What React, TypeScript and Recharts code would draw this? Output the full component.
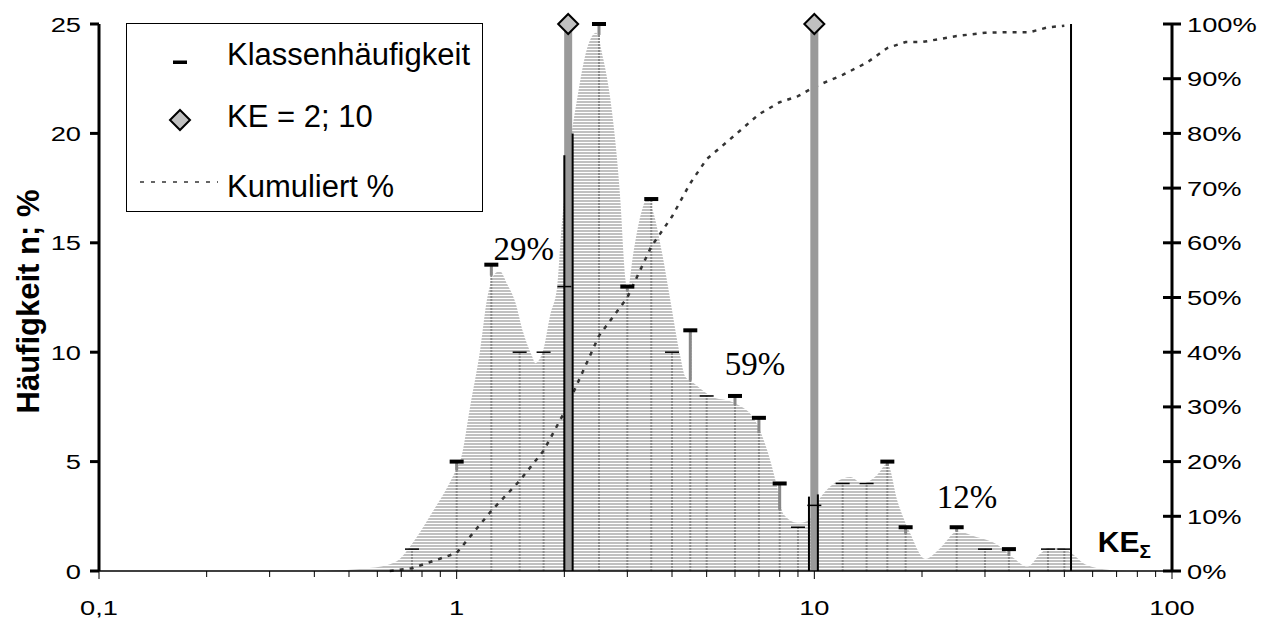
import React from "react";
import {
  ComposedChart,
  Area,
  Line,
  Scatter,
  ErrorBar,
  XAxis,
  YAxis,
} from "recharts";

// class midpoints and their frequencies (Klassenhäufigkeit)
const classX = [0.75, 1, 1.25, 1.5, 1.75, 2, 2.5, 3, 3.5, 4, 4.5, 5, 6, 7, 8, 9, 10, 12, 14, 16, 18, 25, 30, 35, 45, 50];
const classN = [1, 5, 14, 10, 10, 13, 25, 13, 17, 10, 11, 8, 8, 7, 4, 2, 3, 4, 4, 5, 2, 2, 1, 1, 1, 1];
// height of the smoothed curve at each class (where the grey stems end)
const classSurface = [1.3, 4.6, 13.5, 11.6, 10.1, 18, 24.5, 12.8, 16.9, 11.5, 8.7, 8.0, 7.6, 6.3, 2.8, 2.2, 3.0, 4.2, 4.0, 4.8, 1.7, 1.8, 1.4, 0.7, 1.0, 1.0];

// smoothed distribution (hatched area)
const areaX = [0.42, 0.58, 0.68, 0.755, 0.86, 0.94, 1.0, 1.03, 1.09, 1.163, 1.215, 1.28, 1.32, 1.385, 1.458, 1.535, 1.626, 1.658, 1.746, 1.826, 1.91, 1.95, 2.04, 2.173, 2.317, 2.455, 2.57, 2.688, 2.867, 2.96, 3.0, 3.117, 3.261, 3.411, 3.545, 3.756, 3.955, 4.22, 4.35, 4.586, 5.119, 5.935, 6.75, 7.389, 7.88, 8.19, 8.96, 9.62, 10.26, 11.6, 12.61, 13.62, 15.0, 16.0, 17.07, 18.56, 20.44, 22.51, 25.1, 27.85, 32.5, 36.0, 39.4, 42.87, 45.7, 48.8, 52.5, 57.3, 67, 75];
const areaY = [0, 0.15, 0.45, 1.3, 2.75, 3.8, 4.7, 5.2, 7.5, 10.1, 12.4, 13.6, 13.7, 13.1, 12.3, 10.9, 9.8, 9.5, 10.1, 11.7, 13.0, 15.0, 18.5, 21.6, 23.9, 24.6, 23.4, 21.6, 17, 13.4, 12.8, 14.5, 16.2, 17.0, 16.4, 14.5, 12.4, 9.8, 8.9, 8.6, 8.0, 7.7, 7.0, 5.5, 3.8, 2.6, 2.2, 2.3, 3.2, 4.1, 4.3, 4.0, 4.4, 4.9, 3.2, 1.7, 0.55, 1.05, 1.8, 1.6, 1.2, 0.6, 0.2, 0.8, 1.1, 1.1, 0.8, 0.3, 0.05, 0];

// cumulative percentage
const cumX = [0.65, 0.75, 1, 1.25, 1.5, 1.75, 2, 2.5, 3, 3.5, 4, 4.5, 5, 6, 7, 8, 9, 10, 12, 14, 16, 18, 20, 25, 30, 35, 40, 45, 50];
const cumPct = [0, 0.5, 3.3, 11, 16.5, 22, 29, 43, 50, 59.3, 64.8, 70.9, 75.3, 79.7, 83.5, 85.7, 86.8, 88.5, 90.7, 92.9, 95.6, 96.7, 96.7, 97.8, 98.4, 98.5, 98.5, 99.4, 99.7];

// KE = 2; 10 markers
const keX = [2.05, 10];
const keY = [25, 25];

// black boundary lines
const edgeX = [2.0, 2.11, 9.66, 10.23, 52.2];
const edgeTop = [19, 20, 3.4, 3.5, 25];

// annotations
const noteText = ["29%", "59%", "12%"];
const noteX = [1.54, 6.82, 26.7];
const noteY = [14.2, 8.96, 2.88];

const xTicks = [0.1, 0.2, 0.3, 0.4, 0.5, 0.6, 0.7, 0.8, 0.9, 1, 2, 3, 4, 5, 6, 7, 8, 9, 10, 20, 30, 40, 50, 60, 70, 80, 90, 100];
const majorTicks = [0.1, 1, 10, 100];
const majorLabels = ["0,1", "1", "10", "100"];
const leftTicks = [0, 5, 10, 15, 20, 25];
const rightTicks = [0, 10, 20, 30, 40, 50, 60, 70, 80, 90, 100];

const SANS = '"Liberation Sans", Arial, sans-serif';
const SERIF = '"Liberation Serif", "Times New Roman", serif';

const areaData = areaX.map((x, i) => ({ x, y: areaY[i] }));
const cumData = cumX.map((x, i) => ({ x, y: cumPct[i] }));
const classData = classX.map((x, i) => ({
  x,
  y: classN[i],
  drop: [classN[i], 0],
  stem: [Math.max(0, classN[i] - classSurface[i]), 0],
  inside: classN[i] <= classSurface[i],
}));
const keData = keX.map((x, i) => ({ x, y: keY[i], bar: [keY[i], 0] }));
const edgeData = edgeX.map((x, i) => ({ x, y: edgeTop[i], bar: [edgeTop[i], 0] }));
const noteData = noteText.map((t, i) => ({ x: noteX[i], y: noteY[i], t }));
const keLabel = [{ x: 62, y: 0.87 }];

function TickText({ x, y, anchor, children }: any) {
  return (
    <text
      transform={`translate(${x},${y}) scale(1.3,1)`}
      textAnchor={anchor}
      fontFamily={SANS}
      fontSize={21}
      fill="#000"
    >
      {children}
    </text>
  );
}

const XTick = (props: any) => {
  const { x, y, payload } = props;
  const i = majorTicks.indexOf(payload.value);
  const major = i >= 0;
  return (
    <g>
      <line x1={x} x2={x} y1={y} y2={y + (major ? 8 : 6)} stroke="#000" strokeWidth={1} />
      {major && (
        <TickText x={x} y={y + 44} anchor="middle">
          {majorLabels[i]}
        </TickText>
      )}
    </g>
  );
};

const LeftTick = (props: any) => {
  const { x, y, payload } = props;
  return (
    <g>
      <line x1={x - 9} x2={x} y1={y} y2={y} stroke="#000" strokeWidth={3} />
      <TickText x={x - 18} y={y + 7.5} anchor="end">
        {payload.value}
      </TickText>
    </g>
  );
};

const RightTick = (props: any) => {
  const { x, y, payload } = props;
  return (
    <g>
      <line x1={x - 9} x2={x + 9} y1={y} y2={y} stroke="#000" strokeWidth={3} />
      <TickText x={x + 15} y={y + 7.5} anchor="start">
        {`${payload.value}%`}
      </TickText>
    </g>
  );
};

const YTitle = (props: any) => {
  const vb = props.viewBox || { x: 11, y: 16, width: 80, height: 547 };
  const cx = vb.x + 9;
  const cy = vb.y + vb.height / 2 + 4;
  return (
    <text
      x={cx}
      y={cy}
      transform={`rotate(-90, ${cx}, ${cy})`}
      textAnchor="middle"
      dominantBaseline="central"
      fontFamily={SANS}
      fontWeight="bold"
      fontSize={31}
      fill="#000"
    >
      Häufigkeit n; %
    </text>
  );
};

const nothing = () => <g />;

const Marker = (p: any) =>
  p.payload.inside ? (
    <line x1={p.cx - 7} x2={p.cx + 7} y1={p.cy} y2={p.cy} stroke="#000" strokeWidth={1.5} />
  ) : (
    <rect x={p.cx - 7} y={p.cy - 2} width={14} height={4} fill="#000" />
  );

const Diamond = (p: any) => (
  <polygon
    points={`${p.cx},${p.cy - 10} ${p.cx + 10},${p.cy} ${p.cx},${p.cy + 10} ${p.cx - 10},${p.cy}`}
    fill="#c0c0c0"
    stroke="#000"
    strokeWidth={2}
  />
);

const Note = (p: any) => (
  <text x={p.cx} y={p.cy} textAnchor="middle" fontFamily={SERIF} fontSize={33} fill="#000">
    {p.payload.t}
  </text>
);

const KeSigma = (p: any) => (
  <text x={p.cx} y={p.cy} fontFamily={SANS} fontWeight="bold" fontSize={30} fill="#000">
    KE
    <tspan fontSize={19} dy={6}>
      Σ
    </tspan>
  </text>
);

function LegendBox() {
  return (
    <svg
      width={357}
      height={189}
      style={{ position: "absolute", left: 118, top: 15 }}
    >
      <rect x={0.5} y={0.5} width={356} height={188} fill="#fff" stroke="#000" strokeWidth={1} />
      <rect x={47} y={37.5} width={14} height={3.5} fill="#000" />
      <text x={101} y={65 - 23} fontFamily={SANS} fontSize={31} fill="#000">
        Klassenhäufigkeit
      </text>
      <polygon points="54,87 64,97 54,107 44,97" fill="#c0c0c0" stroke="#000" strokeWidth={2} />
      <text x={101} y={104} fontFamily={SANS} fontSize={31} fill="#000">
        KE = 2; 10
      </text>
      <line x1={14} x2={92} y1={159} y2={159} stroke="#333" strokeWidth={1.5} strokeDasharray="4 7" />
      <text x={101} y={174} fontFamily={SANS} fontSize={31} fill="#000">
        Kumuliert %
      </text>
    </svg>
  );
}

export default function App() {
  return (
    <div style={{ position: "relative", width: 1250, height: 612 }}>
      <svg width={0} height={0} style={{ position: "absolute" }}>
        <defs>
          <pattern id="hatch" width={6} height={3} patternUnits="userSpaceOnUse">
            <rect width={6} height={3} fill="#c0c0c0" />
            <rect y={2} width={6} height={1} fill="#ffffff" />
          </pattern>
        </defs>
      </svg>
      <ComposedChart
        width={1250}
        height={612}
        margin={{ top: 16, right: 6, bottom: 9, left: 11 }}
      >
        <XAxis
          dataKey="x"
          type="number"
          scale="log"
          domain={[0.1, 100]}
          ticks={xTicks}
          interval={0}
          tick={(p: any) => <XTick {...p} />}
          tickLine={false}
          tickSize={0}
          tickMargin={0}
          axisLine={{ stroke: "#000", strokeWidth: 1.5 }}
          height={40}
        />
        <YAxis
          yAxisId="left"
          type="number"
          domain={[0, 25]}
          ticks={leftTicks}
          interval={0}
          tick={(p: any) => <LeftTick {...p} />}
          tickLine={false}
          tickSize={0}
          tickMargin={0}
          axisLine={{ stroke: "#000", strokeWidth: 3 }}
          width={80}
          label={{ content: YTitle }}
        />
        <YAxis
          yAxisId="right"
          orientation="right"
          type="number"
          domain={[0, 100]}
          ticks={rightTicks}
          interval={0}
          tick={(p: any) => <RightTick {...p} />}
          tickLine={false}
          tickSize={0}
          tickMargin={0}
          axisLine={{ stroke: "#000", strokeWidth: 3 }}
          width={80}
        />
        <Area
          yAxisId="left"
          data={areaData}
          dataKey="y"
          type="monotone"
          stroke="none"
          fill="url(#hatch)"
          fillOpacity={1}
          isAnimationActive={false}
        />
        <Scatter
          yAxisId="left"
          data={classData}
          dataKey="y"
          shape={nothing}
          isAnimationActive={false}
        >
          <ErrorBar
            dataKey="drop"
            direction="y"
            width={0}
            stroke="#8c8c8c"
            strokeWidth={2}
            strokeDasharray="2 1"
            isAnimationActive={false}
          />
        </Scatter>
        <Line
          yAxisId="right"
          data={cumData}
          dataKey="y"
          type="linear"
          stroke="#333"
          strokeWidth={2.5}
          strokeDasharray="4 6"
          dot={false}
          activeDot={false}
          isAnimationActive={false}
        />
        <Scatter
          yAxisId="left"
          data={keData}
          dataKey="y"
          shape={Diamond}
          isAnimationActive={false}
        >
          <ErrorBar
            dataKey="bar"
            direction="y"
            width={0}
            stroke="#9a9a9a"
            strokeWidth={8}
            isAnimationActive={false}
          />
        </Scatter>
        <Scatter
          yAxisId="left"
          data={edgeData}
          dataKey="y"
          shape={nothing}
          isAnimationActive={false}
        >
          <ErrorBar
            dataKey="bar"
            direction="y"
            width={0}
            stroke="#000"
            strokeWidth={2}
            isAnimationActive={false}
          />
        </Scatter>
        <Scatter
          yAxisId="left"
          data={classData}
          dataKey="y"
          shape={Marker}
          isAnimationActive={false}
        >
          <ErrorBar
            dataKey="stem"
            direction="y"
            width={0}
            stroke="#888"
            strokeWidth={3}
            isAnimationActive={false}
          />
        </Scatter>
        <Scatter
          yAxisId="left"
          data={noteData}
          dataKey="y"
          shape={Note}
          isAnimationActive={false}
        />
        <Scatter
          yAxisId="left"
          data={keLabel}
          dataKey="y"
          shape={KeSigma}
          isAnimationActive={false}
        />
      </ComposedChart>
      <LegendBox />
    </div>
  );
}
